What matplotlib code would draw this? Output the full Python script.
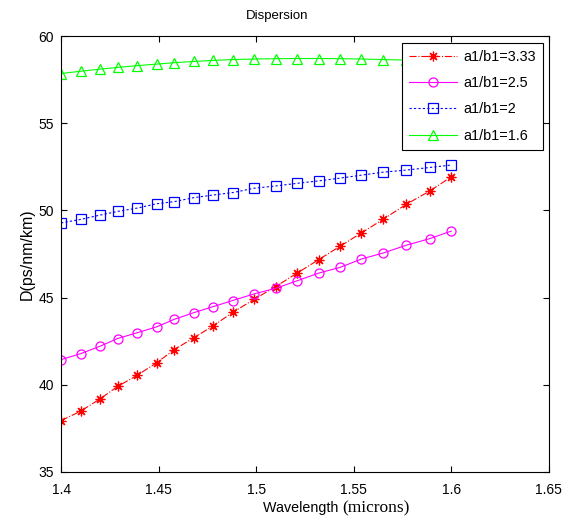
import matplotlib
matplotlib.use("Agg")
import matplotlib.pyplot as plt

# wavelength samples (microns)
wavelength = [1.400, 1.410, 1.420, 1.429, 1.439, 1.449, 1.458, 1.468, 1.478, 1.488,
              1.499, 1.510, 1.521, 1.532, 1.543, 1.554, 1.565, 1.577, 1.589, 1.600]

d_333 = [37.94, 38.48, 39.19, 39.90, 40.54, 41.26, 42.01, 42.69, 43.38, 44.15,
         44.90, 45.63, 46.40, 47.17, 47.94, 48.71, 49.48, 50.35, 51.11, 51.92]
d_25 = [41.44, 41.78, 42.21, 42.65, 42.98, 43.32, 43.75, 44.13, 44.48, 44.83,
        45.21, 45.53, 45.96, 46.40, 46.73, 47.21, 47.55, 48.00, 48.38, 48.81]
d_2 = [49.28, 49.48, 49.73, 49.94, 50.13, 50.38, 50.50, 50.73, 50.88, 51.02,
       51.27, 51.40, 51.55, 51.69, 51.85, 52.02, 52.19, 52.31, 52.46, 52.60]
d_16 = [57.85, 57.98, 58.10, 58.20, 58.30, 58.39, 58.47, 58.54, 58.60, 58.65,
        58.68, 58.70, 58.71, 58.71, 58.70, 58.68, 58.65, 58.62, 58.58, 58.54]

labels = ["a1/b1=3.33", "a1/b1=2.5", "a1/b1=2", "a1/b1=1.6"]
x_ticks = [1.4, 1.45, 1.5, 1.55, 1.6, 1.65]
y_ticks = [35, 40, 45, 50, 55, 60]

plt.rcParams["font.family"] = ["Liberation Sans", "DejaVu Sans"]
FS = 10

fig = plt.figure(figsize=(5.71, 5.22), dpi=100)
ax = fig.add_axes([0.107, 0.096, 0.854, 0.835])

MS = 6.5
ax.plot(wavelength, d_333, color="#ff0000", linestyle="-.", linewidth=0.8,
        marker=(8, 2, 0), markersize=MS + 0.5, markeredgewidth=0.9,
        label=labels[0])
ax.plot(wavelength, d_25, color="#ff00ff", linestyle="-", linewidth=0.8,
        marker="o", markersize=MS, markerfacecolor="none", markeredgewidth=0.9,
        label=labels[1])
ax.plot(wavelength, d_2, color="#0000ff", linestyle=(0, (2, 2)), linewidth=0.8,
        marker="s", markersize=MS, markerfacecolor="none", markeredgewidth=0.9,
        label=labels[2])
ax.plot(wavelength, d_16, color="#00ff00", linestyle="-", linewidth=0.8,
        marker="^", markersize=MS, markerfacecolor="none", markeredgewidth=0.9,
        label=labels[3])

ax.set_xlim(1.4, 1.65)
ax.set_ylim(35, 60)
ax.set_xticks(x_ticks)
ax.set_xticklabels(["1.4", "1.45", "1.5", "1.55", "1.6", "1.65"])
ax.set_yticks(y_ticks)
ax.tick_params(direction="in", top=True, right=True, labelsize=FS,
               length=4, width=0.8)
ax.tick_params(axis="x", pad=8)
ax.tick_params(axis="y", pad=5)
for sp in ax.spines.values():
    sp.set_linewidth(0.8)

fig.text(0.485, 0.969, "Dispersion", fontsize=9.5, ha="center", va="center")
ax.set_ylabel("D(ps/nm/km)", fontsize=11.5, labelpad=3)

# x label: MATLAB mixed sans / serif
fig.text(0.599, 0.019, "Wavelength ", fontsize=10.3, ha="right", va="baseline")
fig.text(0.599, 0.019, "(microns)", fontsize=12.5, ha="left", va="baseline",
         family="Liberation Serif")

leg = ax.legend(loc="upper right", bbox_to_anchor=(0.988, 0.985),
                fontsize=10.4, fancybox=False, framealpha=1, edgecolor="black",
                borderpad=0.5, labelspacing=0.85, handlelength=3.3,
                handletextpad=0.45, borderaxespad=0)
leg.get_frame().set_linewidth(0.8)

fig.savefig("out.png", dpi=100)
